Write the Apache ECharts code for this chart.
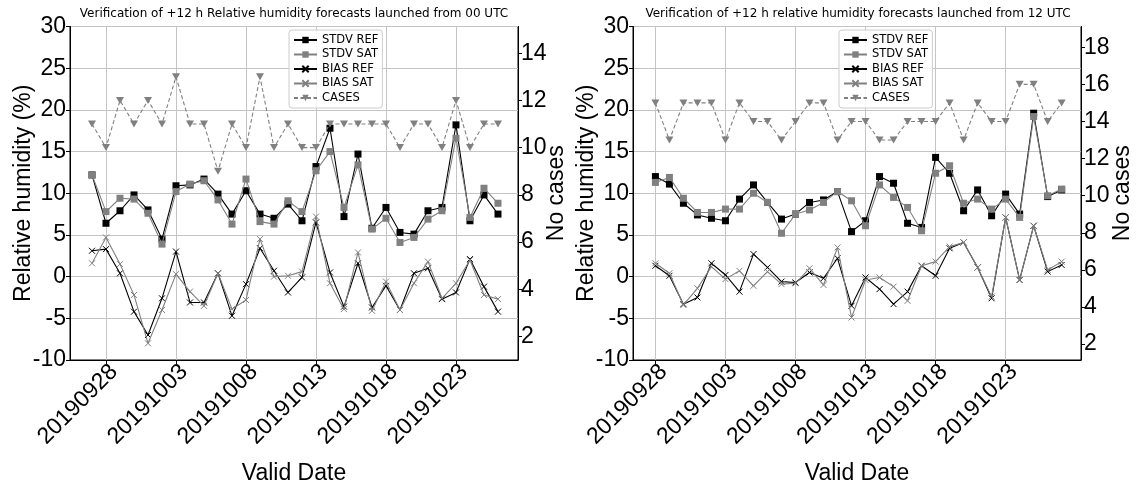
<!DOCTYPE html>
<html><head><meta charset="utf-8">
<script src="https://cdn.jsdelivr.net/npm/echarts@6/dist/echarts.min.js"></script>
<style>html,body{margin:0;padding:0;background:#fff}#c{width:1137px;height:486px}</style>
</head><body><div id="c"></div>
<script>
// ---------- data ----------
const titles = [
  'Verification of +12 h Relative humidity forecasts launched from 00 UTC',
  'Verification of +12 h relative humidity forecasts launched from 12 UTC'
];
const seriesNames = ['STDV REF', 'STDV SAT', 'BIAS REF', 'BIAS SAT', 'CASES'];
const xTickLabels = ['20190928', '20191003', '20191008', '20191013', '20191018', '20191023'];
const rhTicksMin = -10, rhTicksMax = 30, rhTickStep = 5;
const caseTicks00 = [2, 4, 6, 8, 10, 12, 14];
const caseTicks12 = [2, 4, 6, 8, 10, 12, 14, 16, 18];

const dates00 = ['20190927','20190928','20190929','20190930','20191001','20191002','20191003','20191004','20191005','20191006',
  '20191007','20191008','20191009','20191010','20191011','20191012','20191013','20191014','20191015','20191016',
  '20191017','20191018','20191019','20191020','20191021','20191022','20191023','20191024','20191025','20191026'];
const stdvRef00 = [12.2, 6.4, 7.9, 9.8, 8.0, 4.5, 10.9, 11.0, 11.7, 9.9, 7.5, 10.3, 7.5, 7.0, 8.7,
  6.7, 13.2, 17.8, 7.2, 14.7, 5.8, 8.3, 5.3, 5.1, 7.9, 8.3, 18.2, 6.7, 9.8, 7.5];
const stdvSat00 = [12.2, 7.8, 9.4, 9.3, 7.6, 3.9, 10.2, 11.1, 11.5, 9.2, 6.3, 11.7, 6.6, 6.3, 9.1,
  7.8, 12.7, 15.0, 8.3, 13.4, 5.7, 7.0, 4.1, 4.7, 6.9, 7.9, 16.6, 7.1, 10.6, 8.8];
const biasRef00 = [3.1, 3.3, 0.4, -4.2, -7.0, -2.6, 3.0, -3.1, -3.1, 0.4, -4.7, -0.9, 3.4, 0.7, -1.9,
  -0.1, 6.5, 0.5, -3.6, 1.6, -3.7, -1.1, -4.0, 0.4, 1.0, -2.7, -1.9, 2.1, -1.2, -4.2];
const biasSat00 = [1.6, 4.7, 1.5, -2.2, -8.0, -4.0, 0.3, -1.8, -3.5, 0.4, -3.9, -2.8, 4.5, 0.0, 0.1,
  0.6, 7.2, -0.8, -3.9, 2.9, -4.1, -0.6, -4.0, -0.8, 1.8, -2.6, -0.8, 2.0, -2.2, -2.7];
const cases00 = [11, 10, 12, 11, 12, 11, 13, 11, 11, 9, 11, 10, 13, 10, 11,
  10, 10, 11, 11, 11, 11, 11, 10, 11, 11, 10, 12, 10, 11, 11];

const dates12 = ['20190928','20190929','20190930','20191001','20191002','20191003','20191004','20191005','20191006','20191007',
  '20191008','20191009','20191010','20191011','20191012','20191013','20191014','20191015','20191016','20191017',
  '20191018','20191019','20191020','20191021','20191022','20191023','20191024','20191025','20191026','20191027'];
const stdvRef12 = [12.0, 11.1, 8.8, 7.4, 7.0, 6.7, 9.3, 11.0, 8.9, 6.9, 7.5, 8.9, 9.2, 10.2, 5.4,
  6.7, 12.0, 11.2, 6.4, 5.9, 14.3, 12.4, 7.9, 10.4, 7.3, 9.9, 7.5, 19.6, 9.6, 10.4];
const stdvSat12 = [11.3, 11.9, 9.4, 7.7, 7.7, 8.1, 8.1, 10.0, 8.9, 5.2, 7.5, 8.0, 8.9, 10.2, 9.1,
  6.1, 11.0, 9.5, 8.3, 5.5, 12.4, 13.3, 8.8, 9.3, 8.1, 9.3, 7.1, 19.2, 9.7, 10.5];
const biasRef12 = [1.3, 0.1, -3.3, -2.5, 1.6, 0.2, -1.8, 2.7, 1.1, -0.6, -0.7, 0.5, -0.2, 2.2, -3.5,
  -0.1, -1.5, -3.3, -1.8, 1.3, 0.1, 3.4, 4.1, 1.1, -2.6, 7.1, -0.4, 6.1, 0.6, 1.4];
const biasSat12 = [1.6, 0.4, -3.4, -1.4, 1.2, -0.3, 0.7, -1.1, 0.6, -0.9, -0.8, 1.0, -1.0, 3.5, -4.9,
  -0.4, -0.1, -1.2, -2.9, 1.3, 1.8, 3.6, 4.1, 1.1, -2.4, 7.1, -0.4, 6.1, 0.8, 1.8];
const cases12 = [15, 13, 15, 15, 15, 13, 15, 14, 14, 13, 14, 15, 15, 13, 14,
  14, 13, 13, 14, 14, 14, 15, 13, 15, 14, 14, 16, 16, 14, 15];

// ---------- helpers ----------
function dayNum(s) {
  const t = Date.UTC(+s.slice(0, 4), +s.slice(4, 6) - 1, +s.slice(6, 8));
  return Math.round((t - Date.UTC(2019, 8, 28)) / 86400000);
}
const tickPos = xTickLabels.map(dayNum);
function pairs(dates, vals) { return dates.map((d, i) => [dayNum(d), vals[i]]); }

const FONT = 'Liberation Sans, Arial, sans-serif';
const DJ = 'DejaVu Sans, sans-serif';
const BLACK = '#000000', GREY = '#808080', GRID = '#c4c4c4';
const XPATH = 'path://M0,0L10,10M10,0L0,10';

const panels = [
  { dates: dates00, d: [stdvRef00, stdvSat00, biasRef00, biasSat00, cases00], caseTicks: caseTicks00,
    left: 70, xmin: -2.571, xmax: 29.43, cmin: 1.0, cmax: 15.13, legendLeft: 289, titleX: 294, caseGap: 27 },
  { dates: dates12, d: [stdvRef12, stdvSat12, biasRef12, biasSat12, cases12], caseTicks: caseTicks12,
    left: 633, xmin: -1.6, xmax: 30.38, cmin: 1.14, cmax: 19.12, legendLeft: 839, titleX: 858, caseGap: 30 }
];

const option = {
  animation: false,
  backgroundColor: '#ffffff',
  title: [], legend: [], grid: [], xAxis: [], yAxis: [], series: []
};

panels.forEach((p, i) => {
  option.title.push({
    text: titles[i], left: p.titleX, top: 8, textAlign: 'center', padding: 0,
    textStyle: { fontFamily: DJ, fontSize: 12, fontWeight: 'normal', color: '#000' }
  });
  option.grid.push({
    left: p.left, top: 26.5, width: 448, height: 333.5, show: true, containLabel: false,
    outerBoundsMode: 'none',
    borderColor: '#000', borderWidth: 1, backgroundColor: 'transparent'
  });
  option.xAxis.push({
    type: 'value', gridIndex: i, min: p.xmin, max: p.xmax,
    name: 'Valid Date', nameLocation: 'middle', nameGap: 102, nameMoveOverlap: false,
    nameTextStyle: { fontFamily: FONT, fontSize: 23, color: '#000' },
    axisLine: { show: true, onZero: false, lineStyle: { color: '#000', width: 1 } },
    axisTick: { show: true, length: 4, customValues: tickPos, lineStyle: { color: '#000' } },
    axisLabel: {
      customValues: tickPos, rotate: 45, margin: 0, verticalAlign: 'top',
      fontFamily: FONT, fontSize: 23, color: '#000',
      formatter: v => xTickLabels[tickPos.indexOf(Math.round(v))] || ''
    },
    splitLine: { show: true, lineStyle: { color: GRID, width: 1 } }
  });
  option.yAxis.push({
    type: 'value', gridIndex: i, position: 'left', min: rhTicksMin, max: rhTicksMax, interval: rhTickStep,
    name: 'Relative humidity (%)', nameLocation: 'middle', nameGap: 35, nameRotate: 90, nameMoveOverlap: false,
    nameTextStyle: { fontFamily: FONT, fontSize: 23, color: '#000' },
    axisLine: { show: true, onZero: false, lineStyle: { color: '#000', width: 1 } },
    axisTick: { show: true, length: 4, lineStyle: { color: '#000' } },
    axisLabel: { margin: 4, fontFamily: FONT, fontSize: 23, color: '#000' },
    splitLine: { show: true, lineStyle: { color: GRID, width: 1 } }
  });
  option.yAxis.push({
    type: 'value', gridIndex: i, position: 'right', min: p.cmin, max: p.cmax,
    name: 'No cases', nameLocation: 'middle', nameGap: p.caseGap, nameRotate: 90, nameMoveOverlap: false,
    nameTextStyle: { fontFamily: FONT, fontSize: 23, color: '#000' },
    axisLine: { show: true, onZero: false, lineStyle: { color: '#000', width: 1 } },
    axisTick: { show: true, length: 4, customValues: p.caseTicks, lineStyle: { color: '#000' } },
    axisLabel: { customValues: p.caseTicks, margin: 3, fontFamily: FONT, fontSize: 23, color: '#000' },
    splitLine: { show: false }
  });
  option.legend.push({
    data: seriesNames, orient: 'vertical', left: p.legendLeft, top: 30,
    padding: [4, 4, 4, 4], itemGap: 2.5, itemWidth: 23, itemHeight: 8,
    backgroundColor: 'rgba(255,255,255,0.85)', borderColor: '#cccccc', borderWidth: 1, borderRadius: 3,
    textStyle: { fontFamily: DJ, fontSize: 11.5, color: '#000', lineHeight: 12 },
    selectedMode: false
  });
  const styles = [
    { color: BLACK, symbol: 'rect', size: 7 },
    { color: GREY, symbol: 'rect', size: 7 },
    { color: BLACK, symbol: XPATH, size: 6, cross: true },
    { color: GREY, symbol: XPATH, size: 6, cross: true },
    { color: GREY, symbol: 'triangle', size: [8, 7], dashed: true, rot: 180 }
  ];
  styles.forEach((s, k) => {
    option.series.push({
      name: seriesNames[k], type: 'line', xAxisIndex: i, yAxisIndex: k === 4 ? 2 * i + 1 : 2 * i,
      data: pairs(p.dates, p.d[k]),
      symbol: s.symbol, symbolSize: s.size, symbolRotate: s.rot || 0, showSymbol: true,
      lineStyle: { color: s.color, width: 1.1, type: s.dashed ? [4, 2.5] : 'solid' },
      itemStyle: s.cross ? { color: 'rgba(0,0,0,0)', borderColor: s.color, borderWidth: 1 }
                         : { color: s.color, borderWidth: 0 },
      emphasis: { disabled: true }, z: 2 + k
    });
  });
});

const chart = echarts.init(document.getElementById('c'), null, { renderer: 'canvas' });
chart.setOption(option);
</script>
</body></html>
